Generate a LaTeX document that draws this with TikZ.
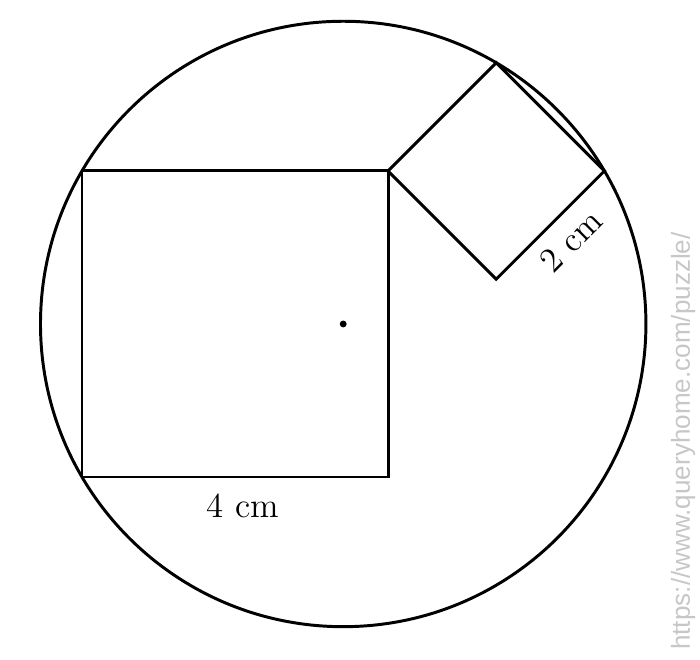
\documentclass[tikz,border=0pt]{standalone}
\usepackage{fontspec}
\newfontfamily\wmfont{Liberation Sans}
\begin{document}
\begin{tikzpicture}[
  edge/.style={line width=1.1pt, line join=miter},
  lbl/.style={font=\fontsize{13}{15}\selectfont, inner sep=2pt},
  wm/.style={font=\wmfont\fontsize{9.7}{11}\selectfont, text=black!22, rotate=90, inner sep=0pt}
]
\useasboundingbox (-1.072,-2.392) rectangle (8.078,6.235);
% big square
\coordinate (A) at (0,0);
\coordinate (B) at (4,0);
\coordinate (C) at (4,4);
\coordinate (D) at (0,4);
% small square
\coordinate (E) at ({4+sqrt(2)},{4+sqrt(2)});
\coordinate (F) at ({4+2*sqrt(2)},4);
\coordinate (G) at ({4+sqrt(2)},{4-sqrt(2)});
% circle centre
\coordinate (O) at ({2+sqrt(2)},2);
\draw[edge] (O) circle ({sqrt(15.65685)});
\draw[edge] (A) -- (B) -- (C) -- (D) -- cycle;
\draw[edge] (C) -- (E) -- (F) -- (G) -- cycle;
\fill (O) circle (0.045);
\path (A) -- (B) node[midway, below=4pt, lbl, xshift=0.1cm] (l4) {4 cm};
\path (G) -- (F) node[midway, sloped, below=3pt, lbl, xshift=0.05cm] (l2) {2 cm};
\node[wm] (w) at (7.856,0.47) {https://www.queryhome.com/puzzle/};
\end{tikzpicture}
\end{document}
